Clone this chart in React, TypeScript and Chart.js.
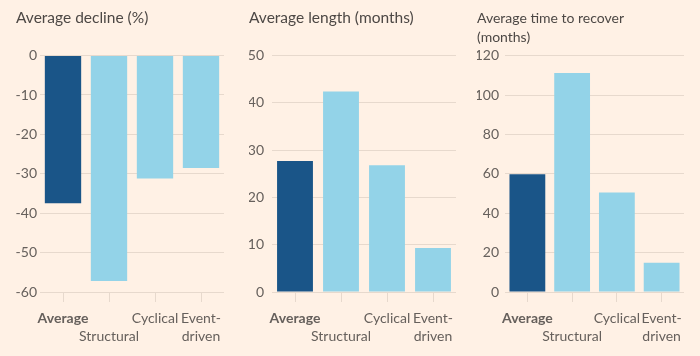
import React, { useEffect, useRef } from "react";
import { Chart, registerables } from "chart.js";

Chart.register(...registerables);

const categories: string[][] = [["Average"], ["", "Structural"], ["Cyclical"], ["Event-", "driven"]];
const declineValues = [-37.5, -57.2, -31.2, -28.5];
const lengthValues = [27.7, 42.4, 26.8, 9.3];
const recoverValues = [59.8, 111.3, 50.6, 14.8];

const declineTitle = ["Average decline (%)"];
const lengthTitle = ["Average length (months)"];
const recoverTitle = ["Average time to recover", "(months)"];

const BG = "#fff1e5";
const DARK = "#1a5588";
const LIGHT = "#93d3e8";
const GRID = "#e7d9cd";
const TICK_TEXT = "#66605c";
const TITLE_TEXT = "#4d4845";
const FONT = "Lato, 'Open Sans', sans-serif";

type PanelProps = {
  left: number;
  width: number;
  values: number[];
  title: string[];
  titleSize: number;
  titleLineHeight: number;
  titlePadBottom: number;
  min: number;
  max: number;
  step: number;
  padLeft: number;
  padRight: number;
  yWidth: number;
  yPad: number;
  barPct: number;
};

function Panel(p: PanelProps) {
  const ref = useRef<HTMLCanvasElement | null>(null);
  useEffect(() => {
    if (!ref.current) return;
    const chart = new Chart(ref.current, {
      type: "bar",
      data: {
        labels: categories,
        datasets: [
          {
            data: p.values,
            backgroundColor: p.values.map((_, i) => (i === 0 ? DARK : LIGHT)),
            borderWidth: 0,
            categoryPercentage: 1,
            barPercentage: p.barPct,
          },
        ],
      },
      options: {
        animation: false,
        responsive: false,
        devicePixelRatio: 1,
        layout: { padding: { left: p.padLeft, right: p.padRight, top: 0, bottom: 10 } },
        plugins: {
          legend: { display: false },
          tooltip: { enabled: false },
          title: {
            display: true,
            text: p.title,
            align: "start",
            color: TITLE_TEXT,
            font: { family: FONT, size: p.titleSize, weight: "normal", lineHeight: p.titleLineHeight },
            padding: { top: 9, bottom: p.titlePadBottom },
          },
        },
        scales: {
          x: {
            afterFit: (scale: any) => {
              scale.height = 54;
            },
            grid: {
              drawOnChartArea: false,
              drawTicks: true,
              tickLength: 10,
              color: GRID,
              offset: false,
            },
            border: { display: false },
            ticks: {
              autoSkip: false,
              maxRotation: 0,
              padding: 8,
              color: TICK_TEXT,
              font: (ctx: any) => ({
                family: FONT,
                size: 14,
                lineHeight: 1.25,
                weight: ctx.index === 0 ? "bold" : "normal",
              }),
            },
          },
          y: {
            min: p.min,
            max: p.max,
            afterFit: (scale: any) => {
              scale.width = p.yWidth;
            },
            grid: { color: GRID, drawTicks: false, lineWidth: 1 },
            border: { display: false },
            ticks: {
              stepSize: p.step,
              padding: p.yPad,
              color: TICK_TEXT,
              font: { family: FONT, size: 14 },
            },
          },
        },
      },
    });
    return () => chart.destroy();
  }, []);
  return (
    <div style={{ position: "absolute", left: p.left, top: 0, width: p.width, height: 356 }}>
      <canvas ref={ref} width={p.width} height={356} style={{ display: "block" }} />
    </div>
  );
}

export default function App() {
  return (
    <div style={{ position: "fixed", left: 0, top: 0, width: 700, height: 356, background: BG, overflow: "hidden" }}>
      <Panel left={0} width={233} values={declineValues} title={declineTitle} titleSize={15.5} titleLineHeight={1.2}
        titlePadBottom={28} min={-60} max={0} step={10} padLeft={16} padRight={9} yWidth={24} yPad={3} barPct={0.79} />
      <Panel left={233} width={233} values={lengthValues} title={lengthTitle} titleSize={15.5} titleLineHeight={1.2}
        titlePadBottom={28} min={0} max={50} step={10} padLeft={16} padRight={10} yWidth={23} yPad={8} barPct={0.78} />
      <Panel left={466} width={234} values={recoverValues} title={recoverTitle} titleSize={14} titleLineHeight={1.35}
        titlePadBottom={9} min={0} max={120} step={20} padLeft={11} padRight={16} yWidth={28} yPad={6} barPct={0.8} />
    </div>
  );
}
